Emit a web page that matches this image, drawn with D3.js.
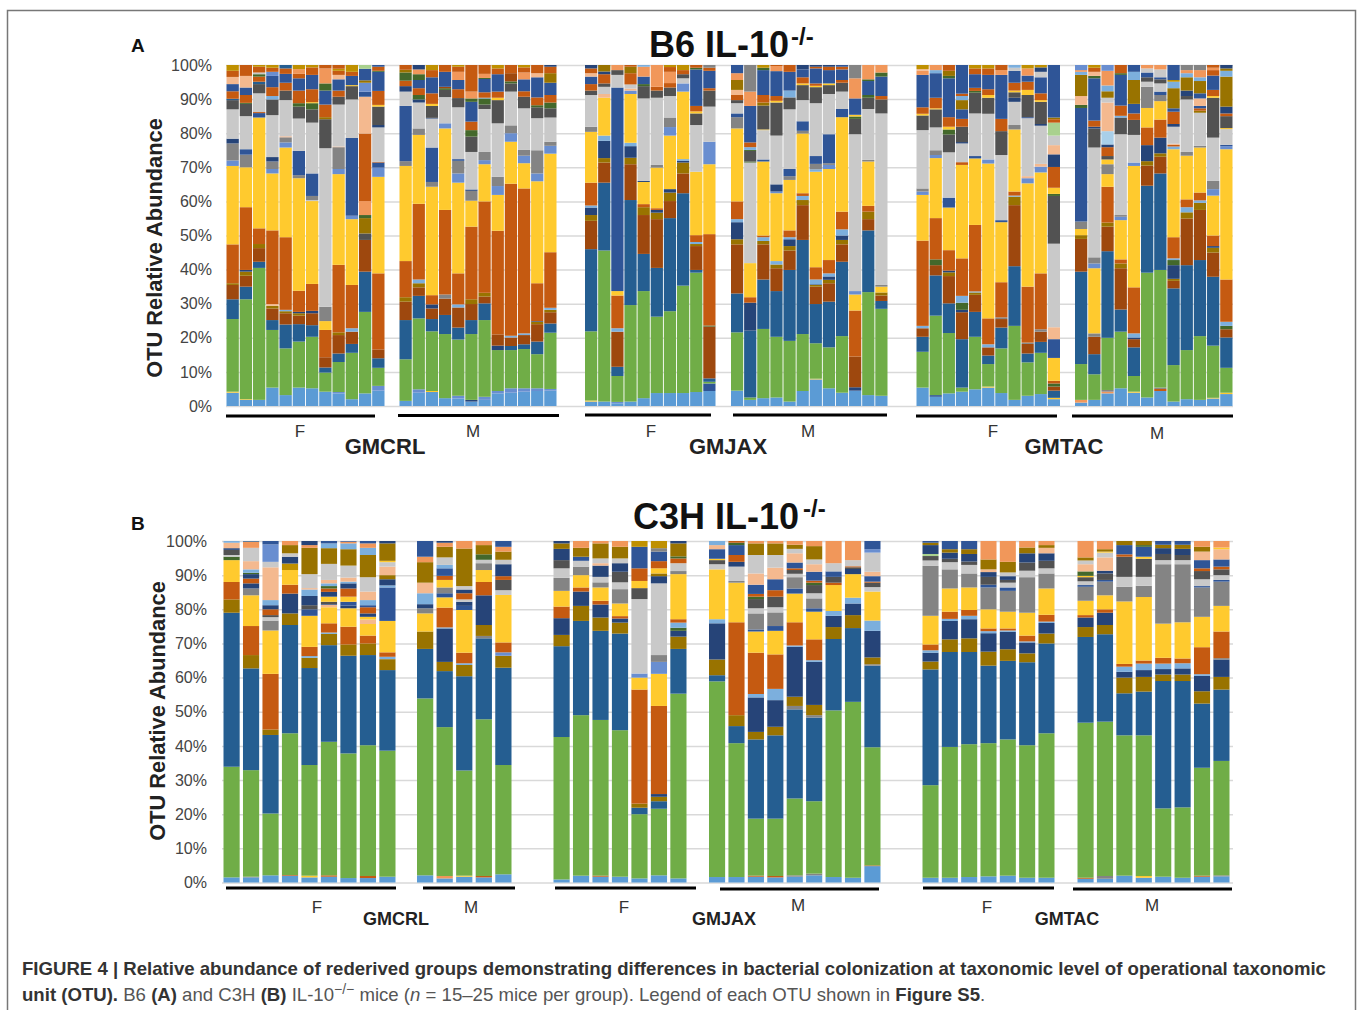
<!DOCTYPE html>
<meta charset="utf-8">

<script src="https://d3js.org/d3.v7.min.js"></script>

<style type="text/css">
body {
  margin: 0;
  background: #fff;
}
svg {
  display: block;
  font-family: "Liberation Sans", sans-serif;
}
.axis path {
  stroke: none;
}
.axis line {
  stroke: #d9d9d9;
  stroke-width: 1.5;
}
.axis text {
  font-size: 16px;
  fill: #444;
}
.ytitle {
  font-size: 21.8px;
  font-weight: bold;
  fill: #222;
}
.sex {
  font-size: 17px;
  fill: #333;
}
.strain {
  font-weight: bold;
  fill: #222;
}
.title {
  font-size: 36px;
  font-weight: bold;
  fill: #111;
}
.panel {
  font-size: 19px;
  font-weight: bold;
  fill: #111;
}
.caption {
  font-size: 18.6px;
  fill: #555;
}
.caption .b {
  font-weight: bold;
  fill: #333;
}
</style>

<body>
<script>

// one colour per OTU family, the excel palette repeats so keys repeat within a bar
var otuKeys = ["L","G","B","R","O","Y","A","D","M","N","S","P","K","T","E","H","U","V","I","W"];
var otuColors = ["#5b9bd5","#70ad47","#255e91","#9e480e","#c55a11","#ffca2e","#c9c9c9","#525252","#848484","#264478","#2f5597","#698ed0","#7cafdd","#f1975a","#f4b98f","#997300","#43682b","#bf9000","#a9cfe9","#a9d18e"];

var yTicks = [0,10,20,30,40,50,60,70,80,90,100];

// every string is one mouse, bottom to top: OTU key + top of the segment in percent
var b6CrlF = [
"L3.9 Y4.2 G25.5 B31.3 R35.5 H36 O47.4 Y70.4 P72 M77 N78.4 A87 D89.7 B90.1 O92.3 S94.4 E96.5 O98.3 V100",
"L1.8 Y2 G31.3 B35 R38.2 H39.4 N39.9 O58.3 Y70 M73.7 S75.3 A85 D88.6 U88.9 O91.2 S93.4 E96.8 O100",
"L1.8 G40.5 B42.3 R46.3 H47.5 O52.1 Y84.6 S85.9 O86.2 A91.7 D94.4 B95.1 O96.6 U97.3 A97.8 O99.5 V100",
"L5.4 G22.3 B25.2 R28.6 H29.4 E29.9 O51.5 Y68.2 P69.5 M71.7 N73 A85.3 D89.9 K90.9 O93.5 S96.8 P98 O99.2 V100",
"L3.2 G16.9 B23.9 R27.2 H27.8 K28.2 O49.5 Y75.8 P77.3 M78.8 E79.1 A89.7 D92.5 O94.8 S97.4 O99 B100",
"L5.4 G18.9 B24 R26.5 H27.2 N27.6 O33.8 Y66.8 M67.7 S74.8 A84.3 D87.8 U88.8 O92.5 S96.1 O97.4 T98.8 V100",
"L5.2 G20.3 B23.7 R27.2 N27.9 O35.8 Y60.1 A60.4 M61.6 S68.2 A83.1 D87 U88.8 Y89.1 O92.9 S97.1 O99.3 V100",
"L4.2 G9.8 B11.3 R14.3 O22.3 Y24.9 M29.1 A75.6 D84.1 H84.7 O88.4 S92.5 U94.6 T99 O100",
"L3.7 P4.1 G12.9 B15.4 R20.8 H21.6 O41.4 Y68 P69.5 M75.9 E76.1 A88.4 D90.7 O92.5 S95.8 E97.1 O98.3 V98.9 O100",
"L2 G15.6 B18.2 R21.8 K22.8 O35.5 Y54.8 P55.8 S78.6 A89.9 D93.8 Y94.1 S96.8 O98 V100",
"L3.7 G27.6 B39.4 R48.7 D50.6 H55.1 U56 T60.1 O79.9 E90.7 S92.2 P94.8 H95.5 S98.9 W100",
"L4.5 P5.9 G11.2 B14 R16.6 O38.9 Y67.2 P69.9 S71.4 O71.6 A81.7 N82.4 D87.8 Y88.3 O92.4 S98 U98.3 O99.5 S100"
];
var b6CrlM = [
"L1.5 G13.7 B25.2 R30.6 H31.9 O42.5 Y70.4 M71.8 S88 A92.2 N93.8 O95.4 U97.8 H98.6 O100",
"L3.9 P4.9 G25.7 B32.3 R34.8 H36 K37.1 O59.3 Y79.5 M81.4 A89 N89.9 U91.2 O93.2 S95.6 U97.3 T98.7 N100",
"L4.1 Y4.4 G21.9 B25.5 R28.6 N29.8 O32.5 Y64.3 M65.7 S75.8 A84.3 N84.5 D88 Y88.6 O91.7 S96.4 O98.5 V100",
"L2.3 G21.1 B26.7 R31.5 M32.7 O57.5 Y81.4 P82.9 A90.6 D92.7 U93.2 R93.6 S98 O100",
"L2.2 P3 G19.5 B23 R28.9 K29.8 O38.9 Y65.5 P68.2 M71.9 S72.4 A87.6 D90.3 O92.9 S95.6 T98 O99.5 V100",
"L1.3 N1.8 G21.1 B25.2 R29.9 H31.3 O52.6 Y60.2 M63.1 N63.5 A74.5 D79 U80.9 O83.4 S89.2 U90.2 T92.2 O100",
"L1.8 P2.7 G25.2 B30.1 R32.1 H33.2 O60 Y70.9 P72.1 M74.5 A87.1 D88.4 U90.2 K90.4 O92 S95.9 U96.2 T97.4 O100",
"L3.7 P4.4 G16.4 N17.7 R21 O51.4 Y61.9 P64.5 M67.2 A82.9 D89.7 Y90.4 O92.2 S97.3 O99 V100",
"L3.9 P5.2 G16.4 B17.6 R20.1 K20.6 O65.2 Y77.5 P80 M82.3 A92.2 D94.6 U95.2 R97.6 O100",
"L4.2 P5.2 G16.7 B18.1 R20.8 K21.3 O63.8 Y71.2 P73.4 M75.1 A87.3 D90.7 O92.3 S95.8 T97.8 O99.3 V100",
"L4.4 P5.2 G15.2 B18.9 R24 H24.7 N24.9 O36 Y65.9 P68.2 M75 A84.4 D87.6 U88.2 O90.5 S96.4 E97.6 O100",
"L4.5 P5 G21.5 B24.2 R27.5 H28.2 K28.8 O45.1 Y74 P76.3 M77.5 A84.6 D87.3 U89 O91.2 S94.8 H97.6 O99.5 N100"
];
var b6JaxF = [
"L1.3 Y1.6 G21.9 B46 R54.3 H56 N58.2 K58.8 O65.5 Y80.4 M81.9 A91.2 D92.5 O94.4 S96.6 E97.6 O99 N100",
"L1.3 G45.6 B65.5 R71.4 H72.7 N77.8 K79.3 Y90.4 E91.5 A93.6 D94.6 O97.3 N98.1 H100",
"L0.8 P1.2 G8.8 B11.5 R21.8 K22.8 O32.4 Y33.7 S93.4 A97.1 D98.5 T100",
"L1.3 G29.6 B60.4 R70.9 H72.8 N76.2 K77.2 Y91.5 P92.5 E93.1 A94.3 O97.6 H99.5 O100",
"L2.3 G33.7 B44.6 R56 H58.3 O59.2 Y65.7 N66 A90.2 D93.8 U94.4 S96.6 T99.5 K100",
"L3.8 G26.2 B40.5 R54.8 H56.7 N57.5 O58 Y69.9 M70.7 A90.4 D92.5 O93.6 T100",
"L3.8 G27.8 B55.1 R60.1 H62.6 N63.6 Y79.3 P81.8 M84.6 A90.9 D93.4 O94.7 T98 O99.4 V100",
"L3.8 G35.3 B62.4 R68.2 H71.4 N71.9 K72.4 Y92.2 P94.6 A96.1 D97.3 O98.5 V100",
"L4.1 G39.1 B39.9 R46.9 H47.5 K48.1 O50.1 Y68.7 A82.4 D85.8 Y86.4 O88 S98.7 U99.2 O100",
"L4.4 S6.6 G7.1 B8.1 R23.3 U23.6 O50.4 Y70.9 P77.5 A87.8 D92.5 O93.2 S98.3 O99.2 M100"
];
var b6JaxM = [
"L4.5 G21.6 B33 R47.4 H48.9 N53.9 K54.8 O60 Y81.4 M84.7 S85.8 A88.8 D89.7 O91.2 E92.7 H95.6 T97.6 S100",
"L1.8 G2.5 B22.1 N30.3 O31.9 Y41.9 A71.4 U71.7 D74.8 U75.1 K75.9 O77.3 S88 T92.2 M100",
"L2.3 G22.6 B37.1 R47.4 H48.4 K49.5 O50 Y71.7 S72.3 A80.9 Y81.1 D88.1 H89 O91.2 S98.5 U99.2 V100",
"L2.5 G20.3 B33.7 R40.4 H41.5 K42.5 Y62.4 P62.9 N65 A79.3 D89 Y89.5 O90.9 S98.2 T99.7 O100",
"L1.3 G19.1 B39.9 R45.6 H46.9 N48.9 K49.5 O51.5 Y66.3 M67.4 S69.5 A87 D90.5 K92.5 S98 O100",
"L4.4 G21.1 B48.7 R58.9 H60.4 K61.6 O62.4 Y79.9 M80.7 S83.5 A89.7 D94.1 Y94.6 O96.4 S98.7 N100",
"L7.8 Y8 G18.4 B29.9 R35 H35.5 N35.7 K37.1 O40.7 Y68.7 K69.4 M71 S73.3 A88.8 D93.5 Y93.9 O94.6 S99 O99.5 N100",
"L5.2 G17.2 B30.6 R36 H37 N38 K38.9 O42.8 Y69.5 P70.7 M71.2 S79.7 A91.5 D94.1 Y94.6 S98.5 O99.5 N100",
"L3.9 G20.5 B42.3 R47.4 H48.7 N50 K51.8 O57 Y84.7 S87.1 A92.2 D94.8 O95.6 S98.7 O99.5 S100",
"L4.5 N5.5 R14.5 O28 Y32.7 P33.7 A79.7 D84.2 U84.9 Y85.4 S90.2 T96.1 M100",
"L3.2 G33.4 B51.5 R54.8 H57 O58.7 Y71.7 M72.2 A87.1 D90.4 U91.2 S95.3 U95.8 T100",
"L3 G28.5 B30.8 R32.4 H33.3 Y35 M35.5 A85.8 D89.9 O90.9 S96.6 U97.8 T100"
];
var b6TacF = [
"L5.4 G15.9 B20.3 R22.8 K23.5 O48.5 Y61.9 P62.9 M63.8 A80.9 D85.2 Y85.7 O87.6 S97.1 T98.3 E98.8 V100",
"L2.7 S3.2 G26.5 B38.3 R41.3 U43 O55.1 Y72.7 P73.6 M75 A81.7 D87 Y87.3 O90.4 S97.6 K98.5 T100",
"L3.7 G21.4 B30.1 R38.1 H39.2 N39.7 O45.7 Y58.2 S61.1 A74.4 D79.6 U81.1 Y81.9 O84.7 S96.1 U96.8 H98.3 O100",
"L4.2 G5.4 B19.6 R27.5 N28.2 U30.3 K32.3 O43.3 Y70.7 O71.5 A77 N77.4 D81.9 O84.2 S87 H89.7 K90.9 O91.6 S100",
"L4.9 G20.3 B27.6 R32.6 H33.3 K33.6 O53.1 Y72.6 S73.3 A85.8 D91.9 U92.4 O93.3 S97.3 O99 V100",
"L5.4 Y5.7 G12.3 B14.8 R17.2 K18.1 O25.7 Y71.1 P72.3 A85.7 D90.4 Y91.2 O92.9 S97.1 O99 V100",
"L3.8 G16.9 B23 R25.5 M26 O36.3 Y53.9 S54.5 A73.6 D80.6 O84.2 S97.1 T98.5 O100",
"L1.8 G23.5 B41 R58.9 H61.4 K61.7 O62.9 Y81.1 M82.4 A89.2 N90.4 D92 Y92.5 O94.8 S98.3 A99.2 K100",
"L3 G12.8 B15.4 R18.2 M18.6 O35 Y65.3 P66.8 E67.4 A84.4 S84.7 D91.2 Y92.7 O95.1 S96.9 T99 V100",
"L3.5 G15.6 B18.8 R21.8 M22.5 O38.9 Y68.5 P70.2 E71 A82.2 N82.7 D89.2 Y89.7 O91.7 S96.4 A98 N99.3 V100",
"L2 Y2.4 B4.5 R5.7 U6.6 O7.4 Y14.1 S19.6 E23.1 A47.6 D61.6 U62.2 Y64 O70.1 N73.8 E76.5 A79.3 W83.1 O84.1 H84.6 S100"
];
var b6TacM = [
"L1 T1.8 G12.3 B39.4 R49 H50.1 Y51.9 M54.1 S87.4 U88.3 E90.9 H97.1 K98 T98.5 P100",
"L1.8 G9.3 B15.2 R20.3 M21.3 Y40.4 P41.8 M43.6 A75.8 D81.4 N81.9 O83.7 S96.1 U96.8 E98 O99.2 V100",
"L3.7 T4.2 M4.7 G20 B45.4 R52.6 H53.8 O64.3 Y68 M70.9 Y72.3 D73.3 O75.9 N76.7 I80.6 E89 A90.4 H92.3 K94 T98.3 P100",
"L5.2 G21.8 B28.3 R40.4 H41.8 O43 Y54.5 P55.5 M56 A79.7 D84.6 K85.1 O88.1 S97.1 U97.6 O100",
"L3.9 Y4.2 G8.8 B17.2 R19.6 N20.1 K21.3 O34.8 Y70.4 P71.4 A79.5 D83.9 O85.8 S88.6 H95.6 K98 S100",
"L2.5 G39.1 B64.6 R70.5 H71.8 N76.5 O81.7 Y87.4 M93.6 A95.1 D96.4 S97.8 A99 T100",
"L4.4 O5 M5.4 G39.9 B68.2 R73.1 H74.1 N78.7 O84 Y89.4 M91.2 S92.2 A94.6 D95.8 S96.4 A98.7 T100",
"L1.3 G12 B34.5 R36.7 H37.3 N41.3 U42.8 K43.3 O49.5 Y75.3 K76.1 O76.6 E76.9 A81.9 N82.7 O86.3 S87.3 H93.2 K95.1 V95.6 S100",
"L2 G16.4 B41.3 R55 H56.8 K58.3 O60.6 Y73.4 M74.5 A89.9 D90.9 N92.5 H96.4 K97.6 T98.5 M100",
"L1.8 G20.5 B42.8 R57.5 H59.6 K60.3 O62.6 Y75.8 M76.3 A86 H86.6 O87.3 S88 E90.2 S91.7 H95.3 K96.4 T98.5 M100",
"L2.2 Y2.4 G17.7 B37.9 R45 H46.4 N46.9 O50 Y61.7 P63.6 M66 A78.7 D90.4 Y90.9 O92.7 S96.9 O98.5 T99.2 O100",
"L3.5 Y3.9 G11.2 B20.1 R22.5 U23.5 K24.7 O37.1 Y75.3 P76.2 S76.6 A81.2 Y81.5 D85 O85.8 N87.8 H96.6 K98.3 H99 N100"
];

var c3CrlF = [
"L1.5 G33.9 B79 H82.9 O88 Y94.4 U95.4 A95.9 D97.4 N97.9 E99.5 K100",
"L1.5 M1.7 G32.9 B62.7 H66.6 O75.1 Y84.1 M86.1 N87.6 O89 N90.3 U90.7 K91.7 E94.1 A98 T99.8 B100",
"L2.1 G20.2 B43.2 H44.8 O61.1 Y73.8 M76.7 A77.7 D78.3 O80 N81.2 K82.7 E92.3 A93.9 P99 S100",
"L2 O2.2 G43.7 B75.4 H78.8 N84.6 O87.2 Y91.5 V93.4 N95.4 A96.4 H98.8 T100",
"L1.5 Y2 G34.4 B62.8 H65.8 K66.3 O69 Y78.1 S80 D81.2 N83.9 K85.8 E86.2 A90.3 H98 T98.8 N100",
"L1.7 O2.1 G41.2 B69.5 H72.8 K73.2 O75.9 Y80.6 E81.3 N81.5 D82.2 Y83.7 N85.1 O86.1 U86.8 K87.6 E88.6 A93.3 H97.9 K99.3 S100",
"L1.3 G37.8 B66.4 H69.7 O74.9 Y80.3 N81.1 S82.2 Y83.7 O86.1 N87.6 K88.1 E89.3 A92.8 H97.6 K99.3 T99.8 S100",
"L1.3 O1.9 G40.2 B66.6 H70 O72.3 Y75.7 E77 Y77.8 N78.8 O80.6 S81.2 K82.7 E85.2 A89.4 H95.9 K98 T99.3 S100",
"L1.7 G38.6 B62.2 H65.4 K66.1 O67.4 Y76.6 S86.4 K87 N88.8 H90 E92.5 A93.8 Y94.2 H99.3 N100"
];
var c3CrlM = [
"L2.1 G53.9 B68.4 H73.5 Y78.8 M80.3 N81.5 K84.7 E87.8 H93.8 T95.4 S100",
"L1.2 T1.9 G45.5 B61.9 H64.6 N74.4 K74.7 O80.5 Y83.5 S84.7 M86.4 Y88.6 O89.8 S92 K93 A95.2 H98.3 T99.5 N100",
"L1.7 Y2 G32.8 B60.4 H63.7 K64.2 O67.3 Y79.8 S81 N82.2 A82.9 O84.7 N85.8 A86.8 H97.8 T100",
"L1.5 O1.9 G47.8 B71.5 M72.2 H75.4 N84.1 O88 Y91.5 M93.5 A94.5 U96.1 H98.8 T100",
"L2.4 G34.4 B62.9 H66.4 P67.4 O70.3 Y84.2 A85.6 D88.6 O89.7 N93.2 A94.5 H96.9 T98.3 S100"
];
var c3JaxF = [
"L0.9 G42.6 B69.2 H72.5 N77.4 O80.8 Y85.4 M89.2 A92 D94.4 N97.7 H99.3 N100",
"L2 G49 B76.6 H81 N85.2 O86.4 Y90 M92.5 A94.2 S95.4 H98 T100",
"L1.7 O2 G47.6 B73.7 H77.6 N81.4 O82.5 Y86.4 M87.9 A89.5 N92.8 E93.5 A94.9 H99.3 T100",
"L1.7 G44.6 B72.9 H76.1 N77.3 O78 Y81.7 M85.9 A87.9 D91 N93.5 A94.9 H98.3 T100",
"L1.2 G20 B21.9 H23.1 O56.5 Y60 P61.2 A83 D86.2 Y88.3 O92 S98.3 V100",
"L2.1 G21.6 B23.8 H25.1 N25.9 O51.7 Y61.1 P64.6 M66.6 A87.6 N89.7 H90.5 Y92 O94.1 S96.9 M97.9 V100",
"L1.2 G55.3 B68.4 H72 N73.7 U74.6 K76.1 O77.1 Y90.3 M91.2 A93.5 O94.9 U95.5 H99.3 N100"
];
var c3JaxM = [
"L1.6 G58.9 B60.7 H65.3 N75.9 K77.1 Y91.7 A93.2 D94.4 Y94.8 S97.6 E98.8 K100",
"L1.6 G40.8 B45.8 H49 O76.2 Y87.8 M88.3 A92.5 N93.9 O95.9 S98.8 U99.5 O100",
"L1.7 O2 G18.7 B41.9 H44.1 N54.2 K55.2 O67.3 Y73.5 S74.1 M78.8 A80.3 D83 U83.7 O84.5 S87.2 E90.5 A95.9 H99.3 T100",
"L1.5 O1.9 G18.7 B43.1 H45.6 N53.4 K56.7 O66.8 Y73.7 S75.1 M79.1 A80.6 D83.7 O85.6 S88.8 E92.2 A95.9 H99.3 T100",
"L1.7 M2.1 G24.6 B50.7 M51.7 H54.4 N69 K69.4 O76.2 Y84.6 S86.1 M89.4 A90.4 D91.5 O92 S93.7 E96.4 A97.7 H98.9 T100",
"L2.1 M2.6 G23.8 B48.3 M49 H52 N64.6 K65.1 O71.2 Y79.3 S80.3 M83.2 A84.7 D87.1 U87.8 O88.4 S91 E93.2 A94.6 H98.5 T100",
"L1.6 G50.4 B71.3 H74.8 N78.1 K79.5 Y87.1 O87.8 D89.5 S91.1 A93.5 T100",
"L1.4 G52.9 B74.5 H78.3 N81.7 K83.4 Y90.3 N91.8 D92.3 O92.6 A94.4 T100",
"L4.8 O5 G39.6 B63.5 M63.9 H65.9 N73.7 K76.7 Y85.2 A86.5 D87.8 O88.1 S89.7 E91 A96.6 P97.6 S100"
];
var c3TacF = [
"L1.4 G28.5 B62.4 H64.7 N67.3 K68 O69.7 Y78.1 M92.7 A94.3 D95.6 W96.2 N98.8 H99.5 S100",
"L1.4 G39.7 B67.5 H71.2 N76.6 K77.2 O79.3 Y86.1 M91.7 A93.8 D94.8 N96.6 H97.6 S100",
"L1.6 G40.5 B67.5 H71.5 N77.1 K78.1 O79.8 Y86.4 M90.5 A93 D94 N96.2 H97.6 S100",
"L1.8 G40.8 B63.5 H67.6 N73 K73.6 O74.4 Y80 M86.4 S87.2 D89.5 N90.9 E91.7 H94.6 T100",
"L2 G41.9 B64.9 H68.3 N73.4 K73.8 O74.4 Y79.3 M85.4 S86.4 A87.8 D88.6 N89.7 A90.8 H93.9 T100",
"L1.4 G40.2 B64.5 H67.1 N70.3 K70.6 O72.3 Y79 M89.4 A91.3 D93.7 N96.4 H98.1 T100",
"L1.4 G43.7 B70 H72.9 N76 K76.4 O78.4 Y86.1 M90.5 A92 D94.2 N96.4 E98 H98.8 T100"
];
var c3TacM = [
"L1.1 O1.4 G46.8 B71.9 H74.8 N77.6 O78.3 Y82.5 M86.6 S87.1 A88.2 D89.4 Y89.8 U91.1 E93.2 A94.3 H95.2 T100",
"L1.1 M1.9 G47.1 B72.7 H75.4 N79 O80 Y84.1 M88.1 S88.6 D90.5 N91.3 E95.2 A96.6 Y96.9 H97.6 T100",
"L2 G43.1 B55.4 H60 N61.7 K63.2 O64 Y82.3 M86.6 A89.5 D95.4 O96.1 S98.8 H100",
"L1.4 Y1.9 G43.1 B55.9 H60.2 N62.2 K64.1 O65 Y83.6 M86.9 A89.5 D94.8 Y95.4 S98.3 U98.8 H100",
"L1.7 G21.7 B59 H60.9 N62.5 K64.1 O65.8 Y75.8 M93.2 A94.4 D96.2 N97.9 H98.9 S100",
"L1.4 G22 B59 H60.9 N62.7 K64.2 O65.6 Y76.2 M93.2 A94.4 D95.9 N97.7 H98.9 S100",
"L1.7 O2 G33.6 B52.4 H56 N60.5 K61 O68.9 Y77.8 M86.4 S86.8 A88.8 D91.2 O92 S94.4 E96.9 H98.3 T100",
"L1.8 M2.1 G35.6 B56.5 H60.2 N65.3 M65.7 O73.5 Y81 M88.1 S88.6 A90 D91.7 O92.5 S94.6 E97.6 Y98.1 T100"
];

var color = d3.scaleOrdinal().domain(otuKeys).range(otuColors);

var svg = d3.select("body").append("svg")
  .attr("width", 1357)
  .attr("height", 1010);

// page frame, open at the bottom
svg.append("path")
  .attr("d", "M7.5,1010V10.5H1355.5V1010")
  .attr("fill", "none")
  .attr("stroke", "#777")
  .attr("stroke-width", 1.5);

// a segment starts where the one below it ended
function parseBar(str) {
  var prev = 0;
  return str.split(" ").map(function(s) {
    var seg = {key: s[0], y0: prev, y1: +s.slice(1)};
    prev = seg.y1;
    return seg;
  });
}

var panels = [
  {
    letter: "A", letterY: 52, name: "B6 IL-10", titleX: 649, titleY: 57, supX: 791, supY: 45,
    top: 65, bottom: 406, left: 226, right: 1233, tickPad: 14,
    yTitleX: 162, yTitleY: 248,
    strainSize: 22, strainY: 454,
    groups: [
      {data: b6CrlF, x: [226.5, 384.5], line: [226, 375], lineY: 416, label: "F", labelX: 300, labelY: 437},
      {data: b6CrlM, x: [399.5, 556.5], line: [398, 559], lineY: 415.5, label: "M", labelX: 473, labelY: 437},
      {data: b6JaxF, x: [585, 715.5], line: [585, 711], lineY: 415, label: "F", labelX: 651, labelY: 437},
      {data: b6JaxM, x: [731, 887.5], line: [733, 887], lineY: 415, label: "M", labelX: 808, labelY: 437},
      {data: b6TacF, x: [916.5, 1060], line: [916, 1057], lineY: 416, label: "F", labelX: 993, labelY: 437},
      {data: b6TacM, x: [1075, 1232.5], line: [1072, 1233], lineY: 416, label: "M", labelX: 1157, labelY: 439}
    ],
    strains: [["GMCRL", 385], ["GMJAX", 728], ["GMTAC", 1064]]
  },
  {
    letter: "B", letterY: 530, name: "C3H IL-10", titleX: 633, titleY: 529, supX: 803, supY: 517,
    top: 541, bottom: 882.5, left: 222, right: 1233, tickPad: 15,
    yTitleX: 165, yTitleY: 711,
    strainSize: 18, strainY: 925,
    groups: [
      {data: c3CrlF, x: [223.5, 395.5], line: [226, 396], lineY: 888, label: "F", labelX: 317, labelY: 913},
      {data: c3CrlM, x: [417, 511.5], line: [423, 515], lineY: 888, label: "M", labelX: 471, labelY: 913},
      {data: c3JaxF, x: [553.5, 686.5], line: [555, 696], lineY: 888, label: "F", labelX: 624, labelY: 913},
      {data: c3JaxM, x: [709, 880.5], line: [720, 879], lineY: 889, label: "M", labelX: 798, labelY: 911},
      {data: c3TacF, x: [922.5, 1054.5], line: [923, 1054], lineY: 888, label: "F", labelX: 987, labelY: 913},
      {data: c3TacM, x: [1077.5, 1229.5], line: [1073, 1232], lineY: 889, label: "M", labelX: 1152, labelY: 911}
    ],
    strains: [["GMCRL", 396], ["GMJAX", 724], ["GMTAC", 1067]]
  }
];

panels.forEach(function(p) {

  var yScale = d3.scaleLinear()
    .domain([0, 100])
    .range([p.bottom, p.top]);

  var yAxis = d3.axisLeft(yScale)
    .tickValues(yTicks)
    .tickSize(-(p.right - p.left))
    .tickPadding(p.tickPad)
    .tickFormat(function(d) { return d + "%"; });

  svg.append("g")
    .attr("class", "axis")
    .attr("transform", "translate(" + p.left + ",0)")
    .call(yAxis);

  p.groups.forEach(function(g) {
    var xScale = d3.scaleBand()
      .domain(d3.range(g.data.length))
      .range(g.x)
      .paddingInner(p.letter == "A" ? 0.07 : 0.17)
      .paddingOuter(0);

    var bars = svg.append("g").selectAll(".bar")
      .data(g.data.map(parseBar))
      .enter().append("g")
      .attr("class", "bar")
      .attr("transform", function(d, i) { return "translate(" + xScale(i) + ",0)"; });

    bars.selectAll("rect")
      .data(function(d) { return d; })
      .enter().append("rect")
      .attr("width", xScale.bandwidth())
      .attr("y", function(d) { return yScale(d.y1); })
      .attr("height", function(d) { return yScale(d.y0) - yScale(d.y1); })
      .attr("fill", function(d) { return color(d.key); });

    svg.append("line")
      .attr("x1", g.line[0])
      .attr("x2", g.line[1])
      .attr("y1", g.lineY)
      .attr("y2", g.lineY)
      .attr("stroke", "#000")
      .attr("stroke-width", 3);

    svg.append("text")
      .attr("class", "sex")
      .attr("x", g.labelX)
      .attr("y", g.labelY)
      .attr("text-anchor", "middle")
      .text(g.label);
  });

  svg.selectAll(null)
    .data(p.strains)
    .enter().append("text")
    .attr("class", "strain")
    .attr("x", function(d) { return d[1]; })
    .attr("y", p.strainY)
    .attr("text-anchor", "middle")
    .style("font-size", p.strainSize + "px")
    .text(function(d) { return d[0]; });

  svg.append("text")
    .attr("class", "ytitle")
    .attr("transform", "translate(" + p.yTitleX + "," + p.yTitleY + ") rotate(-90)")
    .attr("text-anchor", "middle")
    .text("OTU Relative Abundance");

  svg.append("text")
    .attr("class", "panel")
    .attr("x", 131)
    .attr("y", p.letterY)
    .text(p.letter);

  svg.append("text")
    .attr("class", "title")
    .attr("x", p.titleX)
    .attr("y", p.titleY)
    .text(p.name);

  svg.append("text")
    .attr("class", "title")
    .attr("x", p.supX)
    .attr("y", p.supY)
    .style("font-size", "24px")
    .text("-/-");
});

// caption, [text, bold]
var caption1 = [["FIGURE 4 | Relative abundance of rederived groups demonstrating differences in bacterial colonization at taxonomic level of operational taxonomic", true]];
var caption2a = [["unit (OTU).", true], [" B6 ", false], ["(A)", true], [" and C3H ", false], ["(B)", true], [" IL-10", false]];
var caption2b = [[" mice (", false]];
var caption2c = [[" = 15–25 mice per group). Legend of each OTU shown in ", false], ["Figure S5", true], [".", false]];

function addSpans(sel, parts) {
  parts.forEach(function(d) {
    sel.append("tspan")
      .attr("class", d[1] ? "b" : null)
      .text(d[0]);
  });
}

var line1 = svg.append("text").attr("class", "caption").attr("x", 22).attr("y", 975);
addSpans(line1, caption1);

var line2 = svg.append("text").attr("class", "caption").attr("x", 22).attr("y", 1000.5);
addSpans(line2, caption2a);
line2.append("tspan").attr("dy", -7).style("font-size", "14px").text("−/−");
line2.append("tspan").attr("dy", 7).text(caption2b[0][0]);
line2.append("tspan").style("font-style", "italic").text("n");
addSpans(line2, caption2c);

</script>
</body>
